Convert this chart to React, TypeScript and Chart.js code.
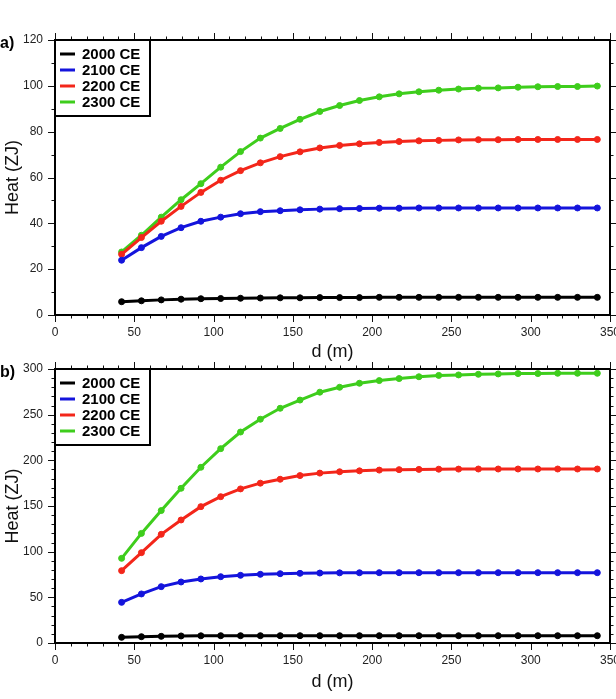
import React, { useEffect, useRef } from 'react';
import { Chart, registerables } from 'chart.js';

Chart.register(...registerables);

// ---------- data ----------
const depths = [42, 54.5, 67, 79.5, 92, 104.5, 117, 129.5, 142, 154.5, 167, 179.5, 192, 204.5, 217, 229.5, 242, 254.5, 267, 279.5, 292, 304.5, 317, 329.5, 342];

const seriesLabels = ['2000 CE', '2100 CE', '2200 CE', '2300 CE'];
const seriesColors = ['#000000', '#1414dc', '#f3261a', '#3ecd1c'];

// panel a
const a2000 = [5.8, 6.2, 6.6, 6.9, 7.1, 7.2, 7.3, 7.4, 7.5, 7.5, 7.6, 7.6, 7.6, 7.7, 7.7, 7.7, 7.7, 7.7, 7.7, 7.7, 7.7, 7.7, 7.7, 7.7, 7.7];
const a2100 = [23.9, 29.4, 34.3, 38.1, 40.9, 42.7, 44.2, 45.1, 45.5, 45.9, 46.2, 46.4, 46.5, 46.6, 46.6, 46.7, 46.7, 46.7, 46.7, 46.7, 46.7, 46.7, 46.7, 46.7, 46.7];
const a2200 = [26.5, 33.8, 40.9, 47.4, 53.5, 58.8, 63.0, 66.4, 69.1, 71.2, 72.9, 74.0, 74.7, 75.3, 75.7, 76.0, 76.2, 76.4, 76.5, 76.5, 76.6, 76.6, 76.6, 76.6, 76.6];
const a2300 = [27.5, 34.8, 42.7, 50.3, 57.3, 64.5, 71.3, 77.2, 81.4, 85.4, 88.8, 91.4, 93.6, 95.2, 96.5, 97.4, 98.1, 98.6, 99.0, 99.1, 99.4, 99.6, 99.7, 99.7, 99.9];

// panel b
const b2000 = [6.2, 6.9, 7.3, 7.7, 7.9, 8.0, 8.0, 8.0, 8.0, 8.0, 8.0, 8.0, 8.0, 8.0, 8.0, 8.0, 8.0, 8.0, 8.0, 8.0, 8.0, 8.0, 8.0, 8.0, 8.0];
const b2100 = [44.5, 53.7, 61.7, 66.8, 70.1, 72.6, 74.1, 75.2, 75.9, 76.3, 76.6, 76.8, 76.9, 77.0, 77.0, 77.0, 77.0, 77.0, 77.0, 77.0, 77.0, 77.0, 77.0, 77.0, 77.0];
const b2200 = [79.2, 98.9, 119.0, 134.7, 149.3, 160.2, 168.7, 175.0, 179.3, 183.3, 186.0, 187.5, 188.5, 189.3, 189.8, 190.1, 190.3, 190.4, 190.5, 190.5, 190.5, 190.5, 190.5, 190.5, 190.5];
const b2300 = [92.7, 120.0, 145.0, 169.4, 192.4, 212.8, 231.0, 245.0, 257.0, 266.0, 274.6, 280.0, 284.4, 287.3, 289.5, 291.5, 293.0, 293.5, 294.2, 294.6, 295.0, 295.0, 295.3, 295.3, 295.3];

const xTitle = 'd (m)';
const yTitle = 'Heat (ZJ)';

const FONT = '"Liberation Sans", Arial, Helvetica, sans-serif';

// ---------- plugins ----------
const framePlugin = {
  id: 'frame',
  afterDraw(chart: any, _args: any, opts: any) {
    const { ctx, chartArea } = chart;
    const { left, right, top, bottom } = chartArea;
    const xs = chart.scales.x;
    const ys = chart.scales.y;
    ctx.save();
    ctx.strokeStyle = '#111';
    ctx.lineWidth = 1;
    const seg = (x1: number, y1: number, x2: number, y2: number) => {
      ctx.beginPath();
      ctx.moveTo(x1, y1);
      ctx.lineTo(x2, y2);
      ctx.stroke();
    };
    const isMajor = (v: number, step: number) => Math.abs(v / step - Math.round(v / step)) < 1e-6;
    for (let v = xs.min; v <= xs.max + 1e-9; v += opts.xMinor) {
      const px = Math.round(xs.getPixelForValue(v)) + 0.5;
      const len = isMajor(v, opts.xMajor) ? 7 : 3.5;
      seg(px, bottom, px, bottom + len);
      seg(px, top, px, top - len);
    }
    for (let v = ys.min; v <= ys.max + 1e-9; v += opts.yMinor) {
      const py = Math.round(ys.getPixelForValue(v)) + 0.5;
      const len = isMajor(v, opts.yMajor) ? 7 : 3.5;
      seg(left, py, left - len, py);
      seg(right, py, right + len, py);
    }
    ctx.lineWidth = 2;
    ctx.strokeStyle = '#000';
    ctx.strokeRect(left, top, right - left, bottom - top);

    // panel label
    ctx.font = 'bold 16px ' + FONT;
    ctx.fillStyle = '#000';
    ctx.textAlign = 'left';
    ctx.textBaseline = 'middle';
    ctx.fillText(opts.label, 0, top + 4);

    // legend
    const bx = left, by = top, bw = 95, bh = 76;
    ctx.fillStyle = '#fff';
    ctx.fillRect(bx, by, bw, bh);
    ctx.lineWidth = 2;
    ctx.strokeStyle = '#000';
    ctx.strokeRect(bx, by, bw, bh);
    ctx.font = 'bold 15px ' + FONT;
    chart.data.datasets.forEach((ds: any, i: number) => {
      const yy = by + 14 + i * 16;
      ctx.strokeStyle = ds.borderColor;
      ctx.lineWidth = 3;
      seg(bx + 5, yy, bx + 20, yy);
      ctx.fillStyle = '#000';
      ctx.fillText(ds.label, bx + 27, yy + 1);
    });
    ctx.restore();
  },
};

function makeConfig(series: number[][], yMax: number, yStep: number, label: string, xAxisHeight: number, titlePadBottom: number) {
  return {
    type: 'line',
    data: {
      datasets: series.map((vals, i) => ({
        label: seriesLabels[i],
        data: depths.map((d, j) => ({ x: d, y: vals[j] })),
        borderColor: seriesColors[i],
        backgroundColor: seriesColors[i],
        borderWidth: 3,
        pointRadius: 3,
        pointBorderWidth: 1,
        pointBackgroundColor: seriesColors[i],
        pointBorderColor: seriesColors[i],
        tension: 0,
        fill: false,
      })),
    },
    options: {
      animation: false,
      responsive: false,
      devicePixelRatio: 1,
      layout: { padding: { left: 0, right: 6, top: 40, bottom: 0 } },
      plugins: {
        legend: { display: false },
        tooltip: { enabled: false },
        frame: { label, xMinor: 10, xMajor: 50, yMinor: 10, yMajor: yStep },
      },
      scales: {
        x: {
          type: 'linear',
          min: 0,
          max: 350,
          grid: { display: false, drawTicks: false, tickLength: 0 },
          border: { display: false },
          ticks: {
            stepSize: 50,
            padding: 10,
            color: '#222',
            font: { family: FONT, size: 12 },
            maxRotation: 0,
            autoSkip: false,
          },
          title: {
            display: true,
            text: xTitle,
            color: '#111',
            font: { family: FONT, size: 18 },
            padding: { top: 0, bottom: titlePadBottom },
          },
          afterFit(scale: any) {
            scale.height = xAxisHeight;
            scale.paddingLeft = 0;
            scale.paddingRight = 0;
          },
        },
        y: {
          type: 'linear',
          min: 0,
          max: yMax,
          grid: { display: false, drawTicks: false, tickLength: 0 },
          border: { display: false },
          ticks: {
            stepSize: yStep,
            padding: 12,
            color: '#222',
            font: { family: FONT, size: 12 },
          },
          title: {
            display: true,
            text: yTitle,
            color: '#111',
            font: { family: FONT, size: 18 },
            padding: { top: 2, bottom: 0 },
          },
          afterFit(scale: any) {
            scale.width = 55;
            scale.paddingTop = 0;
            scale.paddingBottom = 0;
          },
        },
      },
    },
    plugins: [framePlugin],
  };
}

function Panel(props: { series: number[][]; yMax: number; yStep: number; label: string; top: number; xAxisHeight: number; titlePadBottom: number }) {
  const ref = useRef<HTMLCanvasElement>(null);
  useEffect(() => {
    if (!ref.current) return;
    const chart = new Chart(ref.current, makeConfig(props.series, props.yMax, props.yStep, props.label, props.xAxisHeight, props.titlePadBottom) as any);
    return () => chart.destroy();
  }, []);
  return (
    <canvas
      ref={ref}
      width={616}
      height={370}
      style={{ position: 'absolute', left: 0, top: props.top, width: 616, height: 370 }}
    />
  );
}

export default function App() {
  return (
    <div style={{ position: 'absolute', left: 0, top: 0, width: 616, height: 699, background: '#fff', overflow: 'hidden' }}>
      <Panel series={[a2000, a2100, a2200, a2300]} yMax={120} yStep={20} label="a)" top={0} xAxisHeight={55} titlePadBottom={7} />
      <Panel series={[b2000, b2100, b2200, b2300]} yMax={300} yStep={50} label="b)" top={329} xAxisHeight={56} titlePadBottom={6} />
    </div>
  );
}
